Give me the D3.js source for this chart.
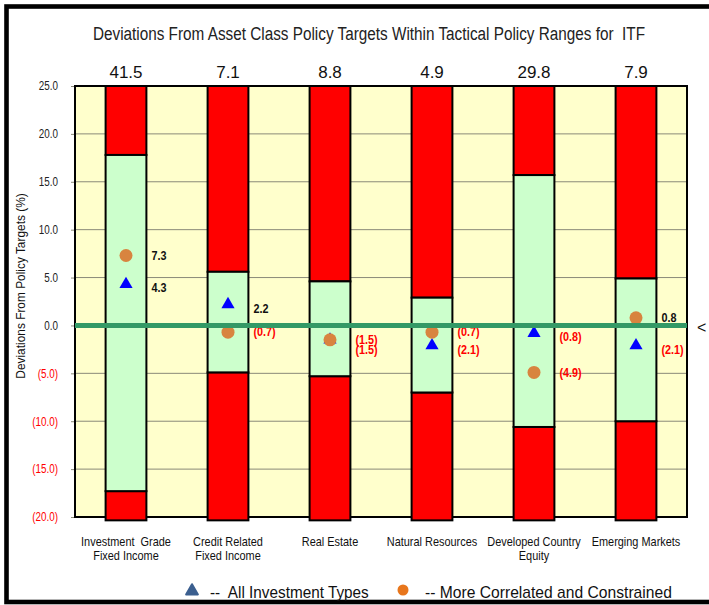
<!DOCTYPE html>
<html lang="en">
<head>
<meta charset="UTF-8">
<script src="https://d3js.org/d3.v7.min.js"></script>
<style>
  body { margin: 0; background: #fff; }
  text { font-family: "Liberation Sans", Arial, sans-serif; white-space: pre; }
</style>
</head>
<body>
<svg width="709" height="605"></svg>
<script>
// data
var categories = [["Investment  Grade", "Fixed Income"], ["Credit Related", "Fixed Income"], ["Real Estate"],
                  ["Natural Resources"], ["Developed Country", "Equity"], ["Emerging Markets"]];
var targets = ["41.5", "7.1", "8.8", "4.9", "29.8", "7.9"];
var rangeHigh = [17.8, 5.6, 4.6, 2.9, 15.7, 4.9];
var rangeLow = [-17.3, -4.9, -5.3, -7.0, -10.6, -10.0];
var allTypes = [4.3, 2.2, -1.5, -2.1, -0.8, -2.1];
var correlated = [7.3, -0.7, -1.5, -0.7, -4.9, 0.8];
var yTicks = [25, 20, 15, 10, 5, 0, -5, -10, -15, -20];

var svg = d3.select("svg");
var plot = {left: 75, right: 687, top: 86, bottom: 517};

// squeeze text to look like a narrow font
function narrow(sel, k) {
  sel.each(function() {
    var len = this.getComputedTextLength();
    d3.select(this).attr("textLength", len * k).attr("lengthAdjust", "spacingAndGlyphs");
  });
}

// outer frame
svg.append("rect").attr("x", 6.5).attr("y", 6.5).attr("width", 720).attr("height", 595.5)
  .attr("fill", "none").attr("stroke", "#000").attr("stroke-width", 4.6);

var x = d3.scaleBand().domain(d3.range(categories.length))
  .range([plot.left, plot.right]).paddingInner(0.6).paddingOuter(0.3);
var y = d3.scaleLinear().domain([-20, 25]).range([plot.bottom, plot.top]);

function fmt(v) { return v < 0 ? "(" + d3.format(".1f")(-v) + ")" : d3.format(".1f")(v); }

// plot background + grid
svg.append("rect").attr("x", plot.left).attr("y", plot.top)
  .attr("width", plot.right - plot.left).attr("height", plot.bottom - plot.top)
  .attr("fill", "#ffffcc");

var yAxis = svg.append("g").attr("transform", "translate(" + plot.left + ",0)")
  .call(d3.axisLeft(y).tickValues(yTicks).tickSize(4).tickPadding(13).tickFormat(fmt));
yAxis.select(".domain").remove();
yAxis.selectAll("line").attr("stroke", "#8a8a78");
yAxis.selectAll("text").attr("font-size", 12)
  .attr("fill", function(d) { return d < 0 ? "#ff0000" : "#222"; })
  .call(narrow, 0.82);

svg.append("g").selectAll("line").data(yTicks).enter().append("line")
  .attr("x1", plot.left).attr("x2", plot.right)
  .attr("y1", function(d) { return y(d); }).attr("y2", function(d) { return y(d); })
  .attr("stroke", "#8a8a78").attr("stroke-width", 1);

svg.append("rect").attr("x", plot.left).attr("y", plot.top)
  .attr("width", plot.right - plot.left).attr("height", plot.bottom - plot.top)
  .attr("fill", "none").attr("stroke", "#000").attr("stroke-width", 2);

// bars
var bars = svg.append("g").selectAll("g").data(categories).enter().append("g");
bars.append("rect")
  .attr("x", function(d, i) { return x(i); }).attr("width", x.bandwidth())
  .attr("y", y(25)).attr("height", function(d, i) { return y(rangeHigh[i]) - y(25); })
  .attr("fill", "#ff0000").attr("stroke", "#000").attr("stroke-width", 2);
bars.append("rect")
  .attr("x", function(d, i) { return x(i); }).attr("width", x.bandwidth())
  .attr("y", function(d, i) { return y(rangeLow[i]); })
  .attr("height", function(d, i) { return y(-20.35) - y(rangeLow[i]); })
  .attr("fill", "#ff0000").attr("stroke", "#000").attr("stroke-width", 2);
bars.append("rect")
  .attr("x", function(d, i) { return x(i); }).attr("width", x.bandwidth())
  .attr("y", function(d, i) { return y(rangeHigh[i]); })
  .attr("height", function(d, i) { return y(rangeLow[i]) - y(rangeHigh[i]); })
  .attr("fill", "#ccffcc").attr("stroke", "#000").attr("stroke-width", 2);

// zero line
svg.append("line").attr("x1", plot.left).attr("x2", plot.right)
  .attr("y1", y(0)).attr("y2", y(0)).attr("stroke", "#339966").attr("stroke-width", 5);

// markers
var tri = d3.symbol().type(d3.symbolTriangle).size(75);
bars.append("path")
  .attr("d", tri)
  .attr("transform", function(d, i) { return "translate(" + (x(i) + x.bandwidth() / 2) + "," + y(allTypes[i]) + ")"; })
  .attr("fill", "#0000ff");
bars.append("circle")
  .attr("cx", function(d, i) { return x(i) + x.bandwidth() / 2; })
  .attr("cy", function(d, i) { return y(correlated[i]); })
  .attr("r", 6.5).attr("fill", "#d8843f");

// value labels
function labelY(i) {
  var cy = y(correlated[i]), ty = y(allTypes[i]) + 4;
  if (Math.abs(ty - cy) < 10) ty = cy + 10;
  return {c: cy, t: ty};
}
bars.append("text")
  .attr("x", function(d, i) { return x(i) + x.bandwidth() + 5; })
  .attr("y", function(d, i) { return labelY(i).c; }).attr("dy", "0.35em")
  .attr("font-size", 12).attr("font-weight", "bold")
  .attr("fill", function(d, i) { return correlated[i] < 0 ? "#ff0000" : "#111"; })
  .text(function(d, i) { return fmt(correlated[i]); })
  .call(narrow, 0.9);
bars.append("text")
  .attr("x", function(d, i) { return x(i) + x.bandwidth() + 5; })
  .attr("y", function(d, i) { return labelY(i).t; }).attr("dy", "0.35em")
  .attr("font-size", 12).attr("font-weight", "bold")
  .attr("fill", function(d, i) { return allTypes[i] < 0 ? "#ff0000" : "#111"; })
  .text(function(d, i) { return fmt(allTypes[i]); })
  .call(narrow, 0.9);

// target weights on top
bars.append("text")
  .attr("x", function(d, i) { return x(i) + x.bandwidth() / 2; })
  .attr("y", 78).attr("text-anchor", "middle").attr("font-size", 17).attr("fill", "#111")
  .text(function(d, i) { return targets[i]; });

// category labels
bars.each(function(d, i) {
  var t = d3.select(this).append("text").attr("text-anchor", "middle")
    .attr("font-size", 13).attr("fill", "#111");
  d.forEach(function(line, k) {
    t.append("tspan").attr("x", x(i) + x.bandwidth() / 2).attr("y", 546 + k * 14).text(line);
  });
  t.selectAll("tspan").call(narrow, 0.84);
});

// title
svg.append("text").attr("x", 369).attr("y", 40).attr("text-anchor", "middle")
  .attr("font-size", 18).attr("fill", "#222")
  .text("Deviations From Asset Class Policy Targets Within Tactical Policy Ranges for  ITF")
  .call(narrow, 0.85);

// y title
svg.append("text").attr("transform", "translate(25,286) rotate(-90)")
  .attr("text-anchor", "middle").attr("font-size", 13.5).attr("fill", "#111")
  .text("Deviations From Policy Targets (%)")
  .call(narrow, 0.88);

// clipped side note
svg.append("text").attr("x", 697).attr("y", 333).attr("font-size", 16).attr("fill", "#111").text("<");

// legend
svg.append("path").attr("d", d3.symbol().type(d3.symbolTriangle).size(60))
  .attr("transform", "translate(192,591)").attr("fill", "#3b5f8f")
  .attr("stroke", "#3b5f8f").attr("stroke-width", 2).attr("stroke-linejoin", "round");
svg.append("text").attr("x", 210).attr("y", 598).attr("font-size", 17).attr("fill", "#111")
  .text("--  All Investment Types").call(narrow, 0.9);
svg.append("circle").attr("cx", 403).attr("cy", 590).attr("r", 5.5).attr("fill", "#e8761c");
svg.append("text").attr("x", 425).attr("y", 598).attr("font-size", 17).attr("fill", "#111")
  .text("-- More Correlated and Constrained").call(narrow, 0.92);
</script>
</body>
</html>
